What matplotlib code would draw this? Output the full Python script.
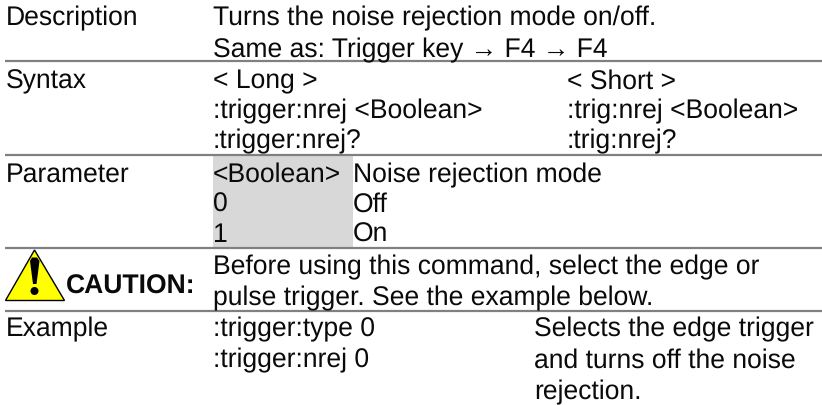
import matplotlib
matplotlib.use("Agg")
import matplotlib.pyplot as plt
from matplotlib.patches import Polygon, Rectangle, Ellipse

plt.rcParams['font.family'] = ['Liberation Sans', 'DejaVu Sans']
plt.rcParams['text.hinting'] = 'no_hinting'

# Table contents
row_labels = ['Description', 'Syntax', 'Parameter', 'Example']
description_lines = ['Turns the noise rejection mode on/off.',
                     'Same as: Trigger key \u2192 F4 \u2192 F4']
syntax_long = ['< Long >', ':trigger:nrej <Boolean>', ':trigger:nrej?']
syntax_short = ['< Short >', ':trig:nrej <Boolean>', ':trig:nrej?']
param_values = ['<Boolean>', '0', '1']
param_meanings = ['Noise rejection mode', 'Off', 'On']
caution_label = 'CAUTION:'
caution_lines = ['Before using this command, select the edge or',
                 'pulse trigger. See the example below.']
example_commands = [':trigger:type 0', ':trigger:nrej 0']
example_notes = ['Selects the edge trigger', 'and turns off the noise', 'rejection.']

FS = 19.1
TEXT_COLOR = '#0a0a0a'
RULE_COLOR = '#808080'
SHADE_COLOR = '#d8d8d8'


def put_lines(ax, x, baselines, lines):
    for y, line in zip(baselines, lines):
        ax.text(x, y, line, fontsize=FS, color=TEXT_COLOR, ha='left', va='baseline')


fig = plt.figure(figsize=(8.22, 4.06), dpi=100)
ax = fig.add_axes([0, 0, 1, 1])
ax.set_xlim(0, 822)
ax.set_ylim(406, 0)
ax.axis('off')

# Grey cell behind the parameter values
ax.add_patch(Rectangle((213, 156), 140, 92, facecolor=SHADE_COLOR, edgecolor='none'))

# Row separators
for y in [61.5, 155.5, 249, 312]:
    ax.plot([5, 822], [y, y], color=RULE_COLOR, linewidth=1.6, solid_capstyle='butt')

# Left column
put_lines(ax, 6, [25.5, 88.5, 182, 336.5], row_labels)

# Main columns
put_lines(ax, 213, [25.5, 57], description_lines)
put_lines(ax, 213, [88.5, 118.5, 148.5], syntax_long)
put_lines(ax, 567, [88.5, 118.5, 148.5], syntax_short)
put_lines(ax, 213, [182, 212, 242], param_values)
put_lines(ax, 353, [182, 212, 242], param_meanings)
put_lines(ax, 213, [274, 305], caution_lines)
put_lines(ax, 213, [336.5, 367.5], example_commands)
put_lines(ax, 534, [336.5, 367.5, 399], example_notes)

# Caution sign
ax.add_patch(Polygon([(34.5, 251), (5.5, 301.5), (64.5, 301.5)], closed=True,
                     facecolor='#ffff00', edgecolor='black', linewidth=1.0, joinstyle='miter'))
ax.add_patch(Polygon([(30, 262), (32, 258.5), (37, 258.5), (39.5, 262), (36.5, 285), (33, 285)],
                     closed=True, facecolor='black', edgecolor='none'))
ax.add_patch(Ellipse((34.5, 292), 8, 8, facecolor='black', edgecolor='none'))
ax.text(66, 293.5, caution_label, fontsize=19.1, fontweight='bold', color=TEXT_COLOR,
        ha='left', va='baseline')

fig.savefig('out.png', dpi=100)
